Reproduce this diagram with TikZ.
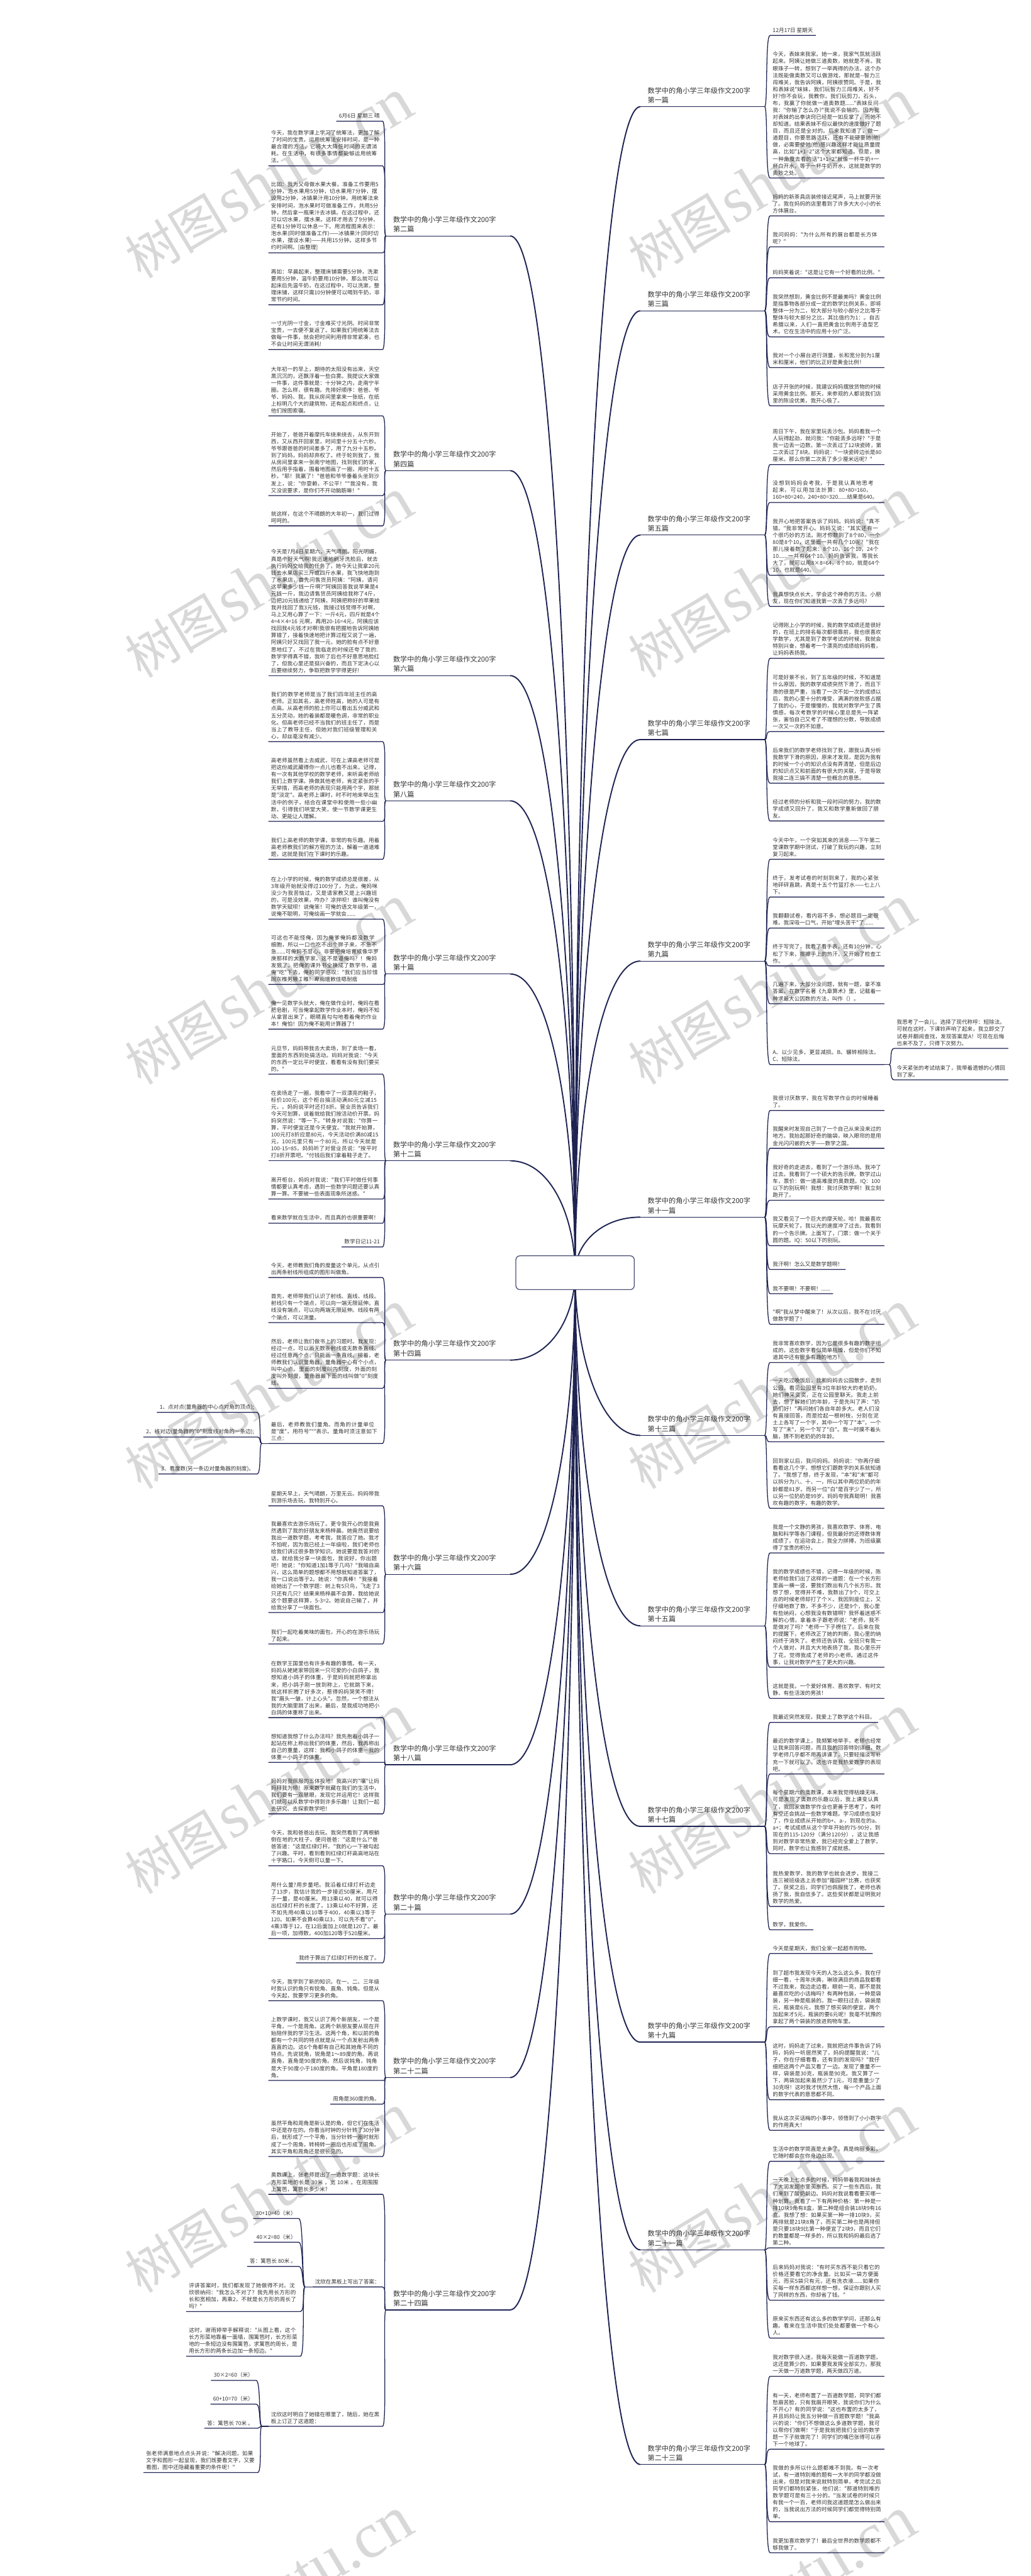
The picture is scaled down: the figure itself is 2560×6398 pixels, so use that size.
\documentclass[tikz,border=0pt]{standalone}
\usepackage{fontspec}
\newfontfamily\cjk{Noto Sans CJK SC}
\newfontfamily\wmlat{Liberation Serif}
\usetikzlibrary{calc}
\XeTeXlinebreaklocale "zh"
\XeTeXlinebreakskip = 0pt plus 1pt
\definecolor{linec}{HTML}{1E2352}
\definecolor{txtc}{HTML}{333333}
\definecolor{wmc}{HTML}{D8D8D8}
\tikzset{
  conn/.style={draw=linec, line width=1pt},
  trunk/.style={draw=linec, line width=1.5pt},
  lab/.style={font=\cjk\fontsize{8.7}{12}\selectfont, text=txtc, text width=136pt, align=left, inner xsep=9pt, inner ysep=4pt, anchor=south west},
  para/.style={font=\cjk\fontsize{6.7}{8.65}\selectfont, text=txtc, text width=135pt, align=left, inner xsep=3.25pt, inner ysep=3pt},
  brief/.style={font=\cjk\fontsize{6.7}{8.65}\selectfont, text=txtc, inner xsep=3.25pt, inner ysep=3pt},
  rootbox/.style={draw=linec!80, line width=1pt, fill=white, rounded corners=5pt, minimum width=147pt, minimum height=42pt},
  wm/.style={text=wmc, rotate=31, anchor=base west, inner sep=0pt}
}
\begin{document}
\begin{tikzpicture}[x=0.5pt, y=-0.5pt]
\useasboundingbox (0,0) rectangle (2560,6398);
\clip (0,0) rectangle (2560,6398);

% watermark
\foreach \y in {694,1686,2697,3702,4707,5698,6700}{
  \node[wm] (wmr\y) at (1600,\y) {{\cjk\fontsize{64}{64}\selectfont 树图} {\wmlat\fontsize{80}{80}\selectfont shutu.cn}};
  \node[wm] (wml\y) at (350,\y) {{\cjk\fontsize{64}{64}\selectfont 树图} {\wmlat\fontsize{80}{80}\selectfont shutu.cn}};
}

\coordinate (rc) at (1428,3161);

% right side
\node[lab] (b1) at (1590,265) {数学中的角小学三年级作文200字\\第一篇};
\node[brief, anchor=south west] (b1a) at (1912,88) {12月17日 星期天};
\node[para, anchor=south west] (b1b) at (1912,442) {今天，表妹来我家。她一来，我家气氛就活跃起来。阿姨让她做三道奥数，她就是不肯。我眼珠子一转，想到了一举两得的办法，这个办法既能做奥数又可以做游戏，那就是--智力三闯难关，我告诉阿姨，阿姨很赞同。于是，我和表妹说"妹妹，我们玩智力三闯难关，好不好?你不会玩，我教你，我们玩剪刀，石头，布，我赢了你就做一道奥数题......"表妹反问我："你输了怎么办?"我说不会输的。因为我对表妹的出拳诀窍已经是一如反掌了，而她不却知道。结果表妹不但以最快的速度做好了题目，而且还是全对的。后来我知道了，做一道题目，你要思路活跃，还有不能硬要她(他)做，必需要使她(他)感兴趣这样才能让质量提高，比如"1+1=2"这个大家都知道，但是，换一种角度去看的话"1+1=2"就像一杯牛奶+一杯白开水，等于一杯牛奶开水，这就是数学的奥妙之处。};

\node[lab] (b3) at (1590,772) {数学中的角小学三年级作文200字\\第三篇};
\node[para, anchor=south west] (b3a) at (1912,536) {妈妈的新茶具店装修接近尾声，马上就要开张了。我在妈妈的店里看到了许多大大小小的长方体展台。};
\node[para, anchor=south west] (b3b) at (1912,613) {我问妈妈："为什么所有的展台都是长方体呢？"};
\node[para, anchor=south west] (b3c) at (1912,690) {妈妈笑着说："这是让它有一个好看的比例。"};
\node[para, anchor=south west] (b3d) at (1912,837) {我突然想到，黄金比例不是最美吗？黄金比例是指事物各部分成一定的数学比例关系，即将整体一分为二，较大部分与较小部分之比等于整体与较大部分之比，其比值约为1：。自古希腊以来，人们一直把黄金比例用于造型艺术。它在生活中的应用十分广泛。};
\node[para, anchor=south west] (b3e) at (1912,913) {我对一个小展台进行测量，长和宽分别为1厘米和厘米，他们的比正好是黄金比例！};
\node[para, anchor=south west] (b3f) at (1912,1008) {店子开张的时候，我建议妈妈摆放货物的时候采用黄金比例。那天，来参观的人都说我们店里的陈设优美，我开心极了。};

\node[lab] (b5) at (1590,1329) {数学中的角小学三年级作文200字\\第五篇};
\node[para, anchor=south west] (b5a) at (1912,1154) {周日下午，我在家里玩丢沙包。妈妈看我一个人玩得起劲，就问我："你能丢多远呀？"于是我一边丢一边数，第一次丢过了12块瓷砖，第二次丢过了8块。妈妈说："一块瓷砖边长是80厘米。那么你第二次丢了多少厘米远呢？"};
\node[para, anchor=south west] (b5b) at (1912,1248) {没想到妈妈会考我，于是我认真地思考起来，可以用加法計算：80+80=160，160+80=240，240+80=320......结果是640。};
\node[para, anchor=south west] (b5c) at (1912,1429) {我开心地把答案告诉了妈妈。妈妈说："真不错。"我非常开心。妈妈又说："其实还有一个很巧妙的方法。刚才你数到了8个80，一个80是8个10，这里面一共有几个10呢？"我在那儿接着数了起来：8个10，16个10，24个10......一共有64个10。妈妈告诉我，等我长大了，就可以用8×8=64，8个80，就是64个10，也就是640。};
\node[para, anchor=south west] (b5d) at (1912,1506) {我真想快点长大，学会这个神奇的方法。小朋友，现在你们知道我第一次丢了多远吗?};

\node[lab] (b7) at (1590,1837) {数学中的角小学三年级作文200字\\第七篇};
\node[para, anchor=south west] (b7a) at (1912,1635) {记得刚上小学的时候，我的数学成绩还是很好的，在班上的排名每次都很靠前，我也很喜欢学数学，尤其是到了数学考试的时候，我就会特别兴奋，想着考一个漂亮的成绩给妈妈看，让妈妈表扬我。};
\node[para, anchor=south west] (b7b) at (1912,1817) {可是好景不长，到了五年级的时候，不知道是什么原因，我的数学成绩突然下滑了，而且下滑的很是严重，当看了一次不如一次的成绩以后，我的心里十分的难受，满满的挫败感占据了我的心，于是慢慢的，我就对数学产生了畏惧感，每次考数学的时候心里总是先一阵紧张，害怕自己又考了不理想的分数，导致成绩一次又一次的不如意。};
\node[para, anchor=south west] (b7c) at (1912,1945) {后来我们的数学老师找到了我，跟我认真分析我数学下滑的原因，原来才发现，是因为我有的时候一个小的知识点没有弄清楚，但是后边的知识点又和前面的有很大的关联，于是导致我接二连三搞不清楚一些概念的意思。};
\node[para, anchor=south west] (b7d) at (1912,2039) {经过老师的分析和我一段时间的努力，我的数学成绩又回升了，我又和数学重新做回了朋友。};

\node[lab] (b9) at (1590,2387) {数学中的角小学三年级作文200字\\第九篇};
\node[para, anchor=south west] (b9a) at (1912,2134) {今天中午，一个突如其来的消息——下午第二堂课数学期中测试，打破了我玩的兴趣，立刻复习起来。};
\node[para, anchor=south west] (b9b) at (1912,2228) {终于，发考试卷的时刻到来了，我的心紧张地砰砰直跳，真是十五个竹篮打水——七上八下。};
\node[para, anchor=south west] (b9c) at (1912,2305) {我翻翻试卷，看内容不多，想必题目一定很难。我深吸一口气，开始"埋头苦干"了......};
\node[para, anchor=south west] (b9d) at (1912,2399) {终于写完了，我看了看手表，还有10分钟，心松了下来，擦擦手上的热汗，又开始了检查工作。};
\node[para, anchor=south west] (b9e) at (1912,2493) {几遍下来，大部分没问题，就有一题，拿不准答案。在数学名著《九章算术》里，记载着一种求最大公因数的方法，叫作（）。};
\node[para, anchor=south west] (b9f) at (1912,2644) {A、以少见多，更显减损。B、辗转相除法。C、短除法。};
\node[para, anchor=south west] (b9g) at (2220,2604) {我思考了一会儿，选择了现代称呼：短除法。可就在这时，下课铃声响了起来，我立即交了试卷并翻阅查找，发现答案是A！可现在后悔也来不及了，只得下次努力。};
\node[para, anchor=south west] (b9h) at (2220,2682) {今天紧张的考试结束了，我带着遗憾的心情回到了家。};

\node[lab] (b11) at (1590,3023) {数学中的角小学三年级作文200字\\第十一篇};
\node[para, anchor=south west] (b11a) at (1912,2758) {我很讨厌数学，我在写数学作业的时候睡着了。};
\node[para, anchor=south west] (b11b) at (1912,2852) {我醒来时发现自己到了一个自己从来没来过的地方。我抬起那好奇的脑袋，映入眼帘的是用金光闪闪嵌的大字——数学之国。};
\node[para, anchor=south west] (b11c) at (1912,2981) {我好奇的走进去，看到了一个游乐场。我冲了过去。我看到了一个硕大的告示牌。数学过山车，票价：做一道高难度的奥数题。IQ：100以下的别玩啊！我想：我讨厌数学啊！我立刻跑开了。};
\node[para, anchor=south west] (b11d) at (1912,3094) {我又看见了一个巨大的摩天轮。哈！我最喜欢玩摩天轮了。我以光的速度冲了过去。我看到的一个告示牌。上面写了，门票：做一个关于圆的题。IQ：50以下的别玩。};
\node[brief, anchor=south west] (b11e) at (1912,3153) {我汗啊！怎么又是数学题啊！};
\node[brief, anchor=south west] (b11f) at (1912,3213) {我不要啊！不要啊！......};
\node[para, anchor=south west] (b11g) at (1912,3289) {"啊"我从梦中醒来了！从次以后，我不在讨厌做数学题了！};

\node[lab] (b13) at (1590,3565) {数学中的角小学三年级作文200字\\第十三篇};
\node[para, anchor=south west] (b13a) at (1912,3384) {我非常喜欢数学，因为它是很多有趣的数字组成的，这些数字看似简单枯燥，但是你们不知道其中还有很多有趣的地方！};
\node[para, anchor=south west] (b13b) at (1912,3581) {一天吃过晚饭后，我和妈妈去公园散步，走到公园，看见公园里有3位年龄较大的老奶奶，她们神采奕奕，正在公园里聊天。我走上前去，想了解她们的年龄，于是先叫了声："奶奶们好！"再问她们各自年龄多大。老人们没有直接回答，而是捡起一根树枝，分别在泥土上各写了一个字，其中一个写了"本"，一个写了"末"，另一个写了"白"。我一时摸不着头脑，猜不到老奶奶的年龄。};
\node[para, anchor=south west] (b13c) at (1912,3746) {回到家以后，我问妈妈。妈妈说："你再仔细看看这几个字，想想它们跟数字的关系就知道了。"我想了想，终于发现，"本"和"末"都可以拆分为八、十、一，所以其中两位奶奶的年龄都是81岁。而另一位"白"是百字少了一，所以另一位奶奶是99岁。妈妈夸我真聪明！我喜欢有趣的数字，有趣的数学。};

\node[lab] (b15) at (1590,4038) {数学中的角小学三年级作文200字\\第十五篇};
\node[para, anchor=south west] (b15a) at (1912,3857) {我是一个文静的男孩，我喜欢数学、体育、电脑和科学等各门课程，但我最好的还得数体育成绩了。在运动会上，我全力拼搏，为班级赢得了宝贵的积分。};
\node[para, anchor=south west] (b15b) at (1912,4141) {我的数学成绩也不错，记得一年级的时候，陈老师给我们出了这样的一道题：在一个长方形里画一横一竖，要我们数出有几个长方形。我想了想，觉得并不难，我数出了9个，可交上去的时候老师却打了个×。我因到座位上，又仔细地数了数，不多不少，还是9个，我心里有些纳闷，心想我没有数错啊？我怀着迷惑不解的心情，拿着本子跟老师说："老师，我不是做对了吗？"老师一下子楞住了。后来在我的提醒下，老师改正了她的判断，我心里的纳闷终于消失了。老师还告诉我，全班只有我一个人做对，并且大大地表扬了我，我心里乐开了花，觉得我成了老师的小老师。通过这件事，让我对数学产生了更大的兴趣。};
\node[para, anchor=south west] (b15c) at (1912,4218) {这就是我，一个爱好体育、喜欢数学、有时文静、有些活泼的男孩！};

\node[lab] (b17) at (1590,4536) {数学中的角小学三年级作文200字\\第十七篇};
\node[brief, anchor=south west] (b17a) at (1912,4278) {我最近突然发现，我爱上了数学这个科目。};
\node[para, anchor=south west] (b17b) at (1912,4406) {最近的数学课上，我频繁地举手，老师也经常让我来回答问题，而且我的回答特别详细，数学老师几乎都不用再讲课了，只要轻描淡写补充一下就可以了。这也许是我热爱数学的表现吧。};
\node[para, anchor=south west] (b17c) at (1912,4604) {每个星期六的奥数课，本来我觉得枯燥无味，可是发现了奥数的乐趣以后，我上课变认真了，我回家做数学作业也更善于思考了，有时有空还会挑战一些数学难题。学习成绩也变好了，作业成绩从开始的b+、a-，到现在的a、a+；考试成绩从这个学年开始的75-90分，到现在的115-120分（满分120分），这让我感到对数学非常热爱，我已经完全爱上了数学，同时，数学也让我感到了成就感。};
\node[para, anchor=south west] (b17d) at (1912,4735) {我热爱数学，我的数学也就会进步，我接二连三被班级选上去参加"籀园杯"比赛，也获奖了。获奖之后，同学们也佩服我了，老师也表扬了我，我自信多了。这些奖状都是证明我对数学的热爱。};
\node[brief, anchor=south west] (b17e) at (1912,4793) {数学，我爱你。};

\node[lab] (b19) at (1590,5072) {数学中的角小学三年级作文200字\\第十九篇};
\node[brief, anchor=south west] (b19a) at (1912,4852) {今天是星期天，我们全家一起超市购物。};
\node[para, anchor=south west] (b19b) at (1912,5034) {到了超市我发现今天的人怎么这么多，我在仔细一看，十周年庆典，琳琅满目的商品我都看不过我来，我边走边看，眼前一亮，那不是我最喜欢吃的小话梅吗？有两种包装，一种是袋装，另一种是瓶装的。我一眼扫过去，袋装是元，瓶装是6元，我想了想买袋的便宜，两个加起来才5元，瓶装的要6元呢！我毫不犹豫的拿起了两个袋装的放进购物车里。};
\node[para, anchor=south west] (b19c) at (1912,5215) {这时，妈妈走了过来，我就把这件事告诉了妈妈，妈妈一听居然笑了，妈妈提醒我说："儿子，你在仔细看看，还有别的发现吗？"我仔细把这两个产品又看了一边。发现了重量不一样，袋装是30克，瓶装是90克。我又算了一下，两袋加起来虽然少了1元，可是重量少了30克呀！这时我才恍然大悟，每一个产品上面的数字代表的意思都不同。};
\node[para, anchor=south west] (b19d) at (1912,5291) {我从这次买话梅的小事中，领悟到了小小数字的作用真大！};

\node[lab] (b21) at (1590,5588) {数学中的角小学三年级作文200字\\第二十一篇};
\node[para, anchor=south west] (b21a) at (1912,5368) {生活中的数学简直是太多了，真是绚丽多彩，它随时都会在你身边出现。};
\node[para, anchor=south west] (b21b) at (1912,5583) {一天晚上七点多的时候，妈妈带着我和妹妹去了大润发超市里买东西。买了一些东西后，我们来到了酸奶前边。妈妈对我说看看要买哪一种划算。我看了一下有两种价格：第一种是一排10块9角有8盒，第二种是组合装18块9有16盒。我想了想：如果买第一种一排10块9，买两排就是21块8角了，而买第二种也是两排但是只要18块9比第一种便宜了2块9，而且它们的数量都是一样多的，所以我和妈妈最后选了第二种。};
\node[para, anchor=south west] (b21c) at (1912,5713) {后来妈妈对我说："有时买东西不能只看它的价格还要看它的净含量。比如买一袋方便面元，而买5袋只有元，还有洗衣液......如果你买每一样东西都这样想一想，保证你跟别人买了同样的东西，你却省了钱。"};
\node[para, anchor=south west] (b21d) at (1912,5807) {原来买东西还有这么多的数学学问，还那么有趣。看来在生活中我们处处都要做一个有心人。};

\node[lab] (b23) at (1590,6121) {数学中的角小学三年级作文200字\\第二十三篇};
\node[para, anchor=south west] (b23a) at (1912,5902) {我对数学很入迷，我每天能做一百道数学题，这还是算少的，如果要我发挥全部实力，那我一天做一万道数学题，两天做四万道。};
\node[para, anchor=south west] (b23b) at (1912,6083) {有一天，老师布置了一百道数学题，同学们都愁眉苦脸，只有我眉开眼笑，我说你们为什么不开心？有的同学说："这也布置的太多了，并且妈妈让我五分钟做一百题数学题！"我高兴的说："你们不想做这么多道数学题，我可以帮你们做啊！"于是我就把我们全班的数学题一下子就做完了！同学们的嘴巴张得可以吞下一个地球了。};
\node[para, anchor=south west] (b23c) at (1912,6263) {我做的多所以什么题都难不到我。有一次考试，有一道特别难的题有一大半的同学都没做出来，但是对我来说就特别简单，考完试之后同学们都特别紧张，他们说："那道特别难的数学题可是有三十分的。"当发试卷的时候只有我一个一百，老师问我这道题是怎么做出来的，当我说出方法的时候同学们都觉得特别简单。};
\node[para, anchor=south west] (b23d) at (1912,6340) {我更加喜欢数学了！最后全世界的数学题都不够我做了。};

% left side
\node[lab] (b2) at (958,586) {数学中的角小学三年级作文200字\\第二篇};
\node[brief, anchor=south east] (b2a) at (950,301) {6月6日 星期三 晴};
\node[para, anchor=south east] (b2b) at (950,412) {今天，我在数学课上学习了统筹法，更加了解了时间的宝贵。运用统筹法安排时间，是一种最合理的方法，它将大大降低时间的无谓消耗。在生活中，有很多事情都能够运用统筹法。};
\node[para, anchor=south east] (b2c) at (950,628) {比如：我为父母做水果大餐。准备工作要用5分钟，泡水果用5分钟，切水果用7分钟，摆设用2分钟，冰镇果汁用10分钟。用统筹法来安排时间，泡水果时可做准备工作，共用5分钟，然后拿一瓶果汁去冰镇。在这过程中，还可以切水果，摆水果。这样才用去了9分钟，还有1分钟可以休息一下。用流程图来表示：泡水果(同时做准备工作)——冰镇果汁(同时切水果，摆设水果)——共用15分钟。这样多节约时间啊。[由整理]};
\node[para, anchor=south east] (b2d) at (950,757) {再如：早晨起来，整理床铺需要5分钟，洗漱要用5分钟，温牛奶要用10分钟。那么就可以起床后先温牛奶，在这过程中，可以洗漱，整理床铺，这样只需10分钟便可以喝到牛奶，非常节约时间。};
\node[para, anchor=south east] (b2e) at (950,868) {一寸光阴一寸金，寸金难买寸光阴。时间非常宝贵，一去便不复返了。如果我们用统筹法去做每一件事，就会把时间利用得非常紧凑，也不会让时间无谓消耗!};

\node[lab] (b4) at (958,1169) {数学中的角小学三年级作文200字\\第四篇};
\node[para, anchor=south east] (b4a) at (950,1033) {大年初一的早上，期待的太阳没有出来，天空黑沉沉的，还飘浮着一些白雾。我提议大家做一件事，这件事就是：十分钟之内，走南宁半圈。怎么样，很有趣。先排好顺序：爸爸、爷爷、妈妈、我。我从房间里拿来一张纸，在纸上标明几个大的建筑物，还有起点和终点，让他们按图索骥。};
\node[para, anchor=south east] (b4b) at (950,1231) {开始了，爸爸开着摩托车绕来绕去，从东开到西，又从西开回家里，时间里十分五十六秒。爷爷跟爸爸的时间差多了，用了九分十五秒。到了妈妈，妈妈却弃权了。终于轮到我了，我从房间里拿来一张南宁地图，找到我们的家，然后用手指着，围着地图画了一圈，用时十五秒。"耶！我赢了！"爸爸和爷爷垂着头坐到沙发上，说："你耍赖，不公平！""我没有，我又没说要求，是你们不开动脑筋嘛！"};
\node[para, anchor=south east] (b4c) at (950,1306) {就这样，在这个不晴朗的大年初一，我们过得呵呵的。};

\node[lab] (b6) at (958,1678) {数学中的角小学三年级作文200字\\第六篇};
\node[para, anchor=south east] (b6a) at (950,1678) {今天是7月6日星期六，天气晴朗、阳光明媚，真是个好天气啊!我迅速地刷牙洗脸后，就去执行妈妈交给我的任务了，她今天让我拿20元钱去水果店买三斤或四斤水果，我飞快地跑到了水果店，首先问售货员阿姨："阿姨，请问这苹果多少钱一斤啊?"阿姨回答我说苹果是4元钱一斤，我边请售货员阿姨给我称了4斤，边把20元钱递给了阿姨，阿姨把称好的苹果给我并找回了我3元钱，我接过钱觉得不对啊，马上又用心算了一下：一斤4元，四斤就是4个4=4×4=16 元啊，再用20-16=4元，阿姨应该找回我4元钱才对啊!我很有把握地告诉阿姨她算错了，接着快速地把计算过程又说了一遍，阿姨只好又找回了我一元，她的脸有点不好意思地红了，不过在我临走的时候还夸了我的.数学学得真不错，我听了后也不好意思地脸红了，但我心里还是挺兴奋的，而且下定决心以后要继续努力，争取把数学学得更好!};

\node[lab] (b8) at (958,1989) {数学中的角小学三年级作文200字\\第八篇};
\node[para, anchor=south east] (b8a) at (950,1842) {我们的数学老师是当了我们四年班主任的高老师。正如其名，高老师姓高，她的人可是有点高。从高老师的脸上你可以看出五分威武和五分灵动，她的着装都是暖色调，非常的职业化。但高老师已经不当我们的班主任了，而是当上了教导主任，但她对我们班级管理和关心，却丝毫没有减少。};
\node[para, anchor=south east] (b8b) at (950,2040) {高老师虽然看上去威武，可在上课高老师可是把这份威武藏得你一点儿也看不出来。记得，有一次有其他学校的数学老师，来听高老师给我们上数学课。换做其他老师，肯定紧张的手无举措，而高老师的表现只能用两个字，那就是"淡定"。高老师上课时，时不时地来举出生活中的例子，结合在课堂中和使用一些小幽默，引得我们哄堂大笑，使一节数学课更生动、更能让人理解。};
\node[para, anchor=south east] (b8c) at (950,2134) {我们上高老师的数学课，非常的有乐趣。用着高老师教我们的解方程的方法，解着一道道难题，这就是我们在下课时的乐趣。};

\node[lab] (b10) at (958,2419) {数学中的角小学三年级作文200字\\第十篇};
\node[para, anchor=south east] (b10a) at (950,2283) {在上小学的时候，俺的数学成绩总是很差，从3年级开始就没得过100分了，为此，俺妈咪没少为我苦恼过，又是请家教又是上兴趣班的，可是没效果，咋办？凉拌呗！谁叫俺没有数学天赋呗！说俺笨！可俺的语文年级第一，说俺不聪明，可俺绘画一学就会......};
\node[para, anchor=south east] (b10b) at (950,2445) {可这也不能怪俺，因为俺爹俺妈都没数学细胞，所以一口也吃不出个胖子来，不急不急......可俺妈不甘心，非要把俺培育成像华罗庚那样的大数学家，这不是逼俺吗？！俺妈发狠了，把俺的课外书全换成了数学书，逼俺"吃"下去，俺的同学感叹："我们应当珍惜踠灰椎男腋Ｉ睢！卑痴嬗敕佳嗯耐痞};
\node[para, anchor=south east] (b10c) at (950,2556) {俺一见数学头就大，俺在做作业时，俺妈在看肥皂剧，可当俺拿起数学作业本时，俺妈不知从拿冒出来了，眼睛直勾勾地看着俺的作业本！俺怕！因为俺不能用计算器了！};

\node[lab] (b12) at (958,2883) {数学中的角小学三年级作文200字\\第十二篇};
\node[para, anchor=south east] (b12a) at (950,2668) {元旦节，妈妈带我去大卖场，到了卖场一看，里面的东西到处搞活动。妈妈对我说："今天的东西一定比平时便宜，看看有没有我们要买的。"};
\node[para, anchor=south east] (b12b) at (950,2883) {在卖场走了一圈，我看中了一双漂亮的鞋子，标价100元，这个柜台搞活动满80元立减15元，。妈妈说平时还打8折。营业员告诉我们今天可划算，说着就给我们按活动价开票。妈妈突然说："等一下。"转身对说我："你算一算，平时便宜还是今天便宜。"我就开始算，100元打8折应是80元，今天活动价满80减15元，100元里只有一个80元，所以今天就是100-15=85，妈妈听了对营业员说："按平时打8折开票吧。"付钱后我们拿着鞋子走了。};
\node[para, anchor=south east] (b12c) at (950,2978) {离开柜台，妈妈对我说："我们平时做任何事情都要认真考虑，遇到一些数学问题还要认真算一算。不要被一些表面现象所迷惑。"};
\node[para, anchor=south east] (b12d) at (950,3038) {看来数学就在生活中，而且真的也很重要啊！};
\node[brief, anchor=south east] (b12e) at (950,3097) {数学日记11-21};

\node[lab] (b14) at (958,3378) {数学中的角小学三年级作文200字\\第十四篇};
\node[para, anchor=south east] (b14a) at (950,3173) {今天，老师教我们角的度量这个单元。从点引出两条射线所组成的图形叫做角。};
\node[para, anchor=south east] (b14b) at (950,3285) {首先，老师带我们认识了射线、直线、线段。射线只有一个端点，可以向一端无限延伸。直线没有端点，可以向两端无限延伸。线段有两个端点，可以测量。};
\node[para, anchor=south east] (b14c) at (950,3448) {然后，老师让我们做书上的习题时。我发现：经过一点，可以画无数条射线或无数条直线。经过任意两个点，只能画一条直线。接着，老师教我们认识量角器，量角器中心有个小点，叫中心点。里面的刻度叫内刻度，外面的刻度叫外刻度，量角器最下面的线叫做"0"刻度线。};
\node[para, anchor=south east] (b14d) at (950,3585) {最后，老师教我们量角。而角的计量单位是"度"，用符号"°"表示。量角时须注意如下三点：};
\node[brief, anchor=south east] (b14e) at (638,3508) {1、点对点(量角器的中心点对角的顶点);};
\node[brief, anchor=south east] (b14f) at (638,3569) {2、线对边(量角器的"0"刻度线对角的一条边);};
\node[brief, anchor=south east] (b14g) at (638,3661) {3、看度数(另一条边对量角器的刻度)。};

\node[lab] (b16) at (958,3910) {数学中的角小学三年级作文200字\\第十六篇};
\node[para, anchor=south east] (b16a) at (950,3740) {星期天早上，天气晴朗，万里无云。妈妈带我到游乐场去玩，我特别开心。};
\node[para, anchor=south east] (b16b) at (950,4005) {我最喜欢去游乐场玩了。更令我开心的是我竟然遇到了我的好朋友来杨梓晨。她竟然说要给我出一道数学题，考考我，我答应了她。我才不怕呢，因为我已经上一年级啦，我们老师也给我们讲过很多数学知识。她说要是我答对的话，就给我分享一块面包，我说好，你出题吧！她说："你知道1加1等于几吗？"我暗自高兴，这么简单的题想都不用想就知道答案了，我一口说出等于2。她说："你真棒！"我接着给她出了一个数学题：树上有5只鸟，飞走了3只还有几只？结果来杨梓晨不会算，我给她说这个题要这样算，5-3=2。她说自己输了，并给我分享了一块面包。};
\node[para, anchor=south east] (b16c) at (950,4083) {我们一起吃着美味的面包，开心的在游乐场玩了起来。};

\node[lab] (b18) at (958,4383) {数学中的角小学三年级作文200字\\第十八篇};
\node[para, anchor=south east] (b18a) at (950,4266) {在数学王国里也有许多有趣的事情。有一天，妈妈从姥姥家带回来一只可爱的小白鸽子，我想知道小鸽子的体重，于是妈妈就把称拿出来，把小鸽子刚一放到称上，它就跳下来，就这样折腾了好多次，惹得妈妈哭笑不得！我"眉头一皱，计上心头"。忽然，一个想法从我的大脑里跳了出来，最后，是我成功地把小白鸽的体重称了出来。};
\node[para, anchor=south east] (b18b) at (950,4377) {想知道我想了什么办法吗？我先抱着小鸽子一起站在称上称出我们的体重，然后，我再称出自己的重量，这样：我和小鸽子的体重－我的体重＝小鸽子的体重。};
\node[para, anchor=south east] (b18c) at (950,4505) {妈妈对我佩服的五体投地！我高兴的"嚷"让妈妈拜我为师！原来数学就藏在我们的生活中，我们要有一双慧眼，发现它并运用它！这样我们就可以从数学中得到许多乐趣！让我们一起去研究、去探索数学吧！};

\node[lab] (b20) at (958,4754) {数学中的角小学三年级作文200字\\第二十篇};
\node[para, anchor=south east] (b20a) at (950,4634) {今天，我和爸爸出去玩。我突然看到了两根躺倒在地的大柱子，便问爸爸："这是什么?"爸爸答道："这是红绿灯杆。"我的心一下被勾起了兴趣。平时，看到看到红绿灯杆高高地站在十字路口，今天倒可以量一下。};
\node[para, anchor=south east] (b20b) at (950,4815) {用什么量?用步量吧。我沿着红绿灯杆边走了13步，我估计我的一步接近50厘米，用尺子一量，是40厘米。用13乘以40，就可以得出红绿灯杆的长度了。13乘以40不好算，还不如先用40乘以10等于400，40乘以3等于120。如果不会算40乘以3，可以先不看"0"，4乘3等于12，在12后面加上0就是120了。最后一项，加得数，400加120等于520厘米。};
\node[brief, anchor=south east] (b20c) at (950,4875) {我终于算出了红绿灯杆的长度了。};

\node[lab] (b22) at (958,5160) {数学中的角小学三年级作文200字\\第二十二篇};
\node[para, anchor=south east] (b22a) at (950,4969) {今天，我学到了新的知识。在一、二、三年级时我认识的角只有锐角、直角、钝角。但是从今天起，我要学习更多的角。};
\node[para, anchor=south east] (b22b) at (950,5167) {上数学课时，我又认识了两个新朋友，一个是平角，一个是周角。这两个新朋友要从现在开始陪伴我的学习生活。这两个角，和以前的角都有一个共同的特点就是从一个点发射出两条直直的边。这6个角都有自己和其她角不同的特点。先说锐角，锐角是1～89度的角。再说直角，直角是90度的角。然后说钝角，钝角是大于90度小于180度的角。平角是180度的角。};
\node[brief, anchor=south east] (b22c) at (950,5226) {周角是360度的角。};
\node[para, anchor=south east] (b22d) at (950,5356) {虽然平角和周角是新认是的角，但它们在生活中还是存在的。你看当时钟的分针转了30分钟后，就形成了一个平角，当分针转一圈时就形成了一个周角，转椅转一圈后也形成了周角。其实平角和周角还是很长见的。};

\node[lab] (b24) at (958,5737) {数学中的角小学三年级作文200字\\第二十四篇};
\node[para, anchor=south east] (b24a) at (950,5450) {奥数课上，张老师提出了一道数学题：这块长方形菜地的长是 30米 ，宽 10米 。在周围围上篱笆，篱笆长多少米?};
\node[brief, anchor=south east] (b24b) at (950,5680) {沈欣在黑板上写出了答案：};
\node[brief, anchor=south east] (b24c) at (742,5510) {30+10=40（米）};
\node[brief, anchor=south east] (b24d) at (742,5569) {40×2=80（米）};
\node[brief, anchor=south east] (b24e) at (742,5629) {答：篱笆长 80米 。};
\node[para, anchor=south east] (b24f) at (746,5741) {评讲答案时，我们都发现了她做得不对。沈欣很纳闷："我怎么不对了？我先用长方形的长和宽相加，再乘2，不就是长方形的周长了吗？"};
\node[para, anchor=south east] (b24g) at (746,5852) {这时，谢雨婷举手解释说："从图上看，这个长方形菜地靠着一面墙，围篱笆时，长方形菜地的一条短边没有围篱笆，求篱笆的周长，是用长方形的两条长边加一条短边。"};
\node[para, anchor=south east] (b24h) at (950,6026) {沈欣这时明白了她错在哪里了，随后，她在黑板上订正了这道题：};
\node[brief, anchor=south east] (b24i) at (636,5912) {30×2=60（米）};
\node[brief, anchor=south east] (b24j) at (636,5971) {60+10=70（米）};
\node[brief, anchor=south east] (b24k) at (636,6031) {答：篱笆长 70米 。};
\node[para, anchor=south east] (b24l) at (640,6141) {张老师满意地点点头并说："解决问题，如果文字和图形一起呈现，我们既要看文字，又要看图，图中还隐藏着重要的条件呢！"};

% label underlines and trunks
\foreach \b in {b1,b2,b3,b4,b5,b6,b7,b8,b9,b10,b11,b12,b13,b14,b15,b16,b17,b18,b19,b20,b21,b22,b23,b24}
  \draw[conn] (\b.south west) -- (\b.south east);
\foreach \b in {b1,b3,b5,b7,b9,b11,b13,b15,b17,b19,b21,b23}
  \draw[trunk] (\b.south west) .. controls +(-100,0) and ($(rc)!0.5!(rc|-\b.south west)$) .. (rc);
\foreach \b in {b2,b4,b6,b8,b10,b12,b14,b16,b18,b20,b22,b24}
  \draw[trunk] (\b.south east) .. controls +(100,0) and ($(rc)!0.5!(rc|-\b.south east)$) .. (rc);

% right brackets
\foreach \p/\cs in {b1/{b1a,b1b}, b3/{b3a,b3b,b3c,b3d,b3e,b3f}, b5/{b5a,b5b,b5c,b5d}, b7/{b7a,b7b,b7c,b7d}, b9/{b9a,b9b,b9c,b9d,b9e,b9f}, b11/{b11a,b11b,b11c,b11d,b11e,b11f,b11g}, b13/{b13a,b13b,b13c}, b15/{b15a,b15b,b15c}, b17/{b17a,b17b,b17c,b17d,b17e}, b19/{b19a,b19b,b19c,b19d}, b21/{b21a,b21b,b21c,b21d}, b23/{b23a,b23b,b23c,b23d}}
  \foreach \c in \cs
    \draw[conn] (\p.south east) .. controls +(8,0) and +(-12,0) .. (\c.south west) -- (\c.south east);

% left brackets
\foreach \p/\cs in {b2/{b2a,b2b,b2c,b2d,b2e}, b4/{b4a,b4b,b4c}, b6/{b6a}, b8/{b8a,b8b,b8c}, b10/{b10a,b10b,b10c}, b12/{b12a,b12b,b12c,b12d,b12e}, b14/{b14a,b14b,b14c,b14d}, b16/{b16a,b16b,b16c}, b18/{b18a,b18b,b18c}, b20/{b20a,b20b,b20c}, b22/{b22a,b22b,b22c,b22d}, b24/{b24a,b24b,b24h}}
  \foreach \c in \cs
    \draw[conn] (\c.south west) -- (\c.south east) .. controls +(12,0) and +(-8,0) .. (\p.south west);

% sub brackets
\draw[conn] (b9f.south east) -- ++(12,0) coordinate (b9fx);
\foreach \c in {b9g,b9h}
  \draw[conn] (b9fx) .. controls +(8,0) and +(-12,0) .. (\c.south west) -- (\c.south east);
\draw[conn] (b14d.south west) -- ++(-16,0) coordinate (b14dx);
\foreach \c in {b14e,b14f,b14g}
  \draw[conn] (\c.south west) -- (\c.south east) .. controls +(12,0) and +(-8,0) .. (b14dx);
\draw[conn] (b24b.south west) -- ++(-18,0) coordinate (b24bx);
\foreach \c in {b24c,b24d,b24e,b24f,b24g}
  \draw[conn] (\c.south west) -- (\c.south east) .. controls +(12,0) and +(-8,0) .. (b24bx);
\draw[conn] (b24h.south west) -- ++(-16,0) coordinate (b24hx);
\foreach \c in {b24i,b24j,b24k,b24l}
  \draw[conn] (\c.south west) -- (\c.south east) .. controls +(12,0) and +(-8,0) .. (b24hx);

\node[rootbox] (root) at (rc) {};   %centro

\end{tikzpicture}
\end{document}
